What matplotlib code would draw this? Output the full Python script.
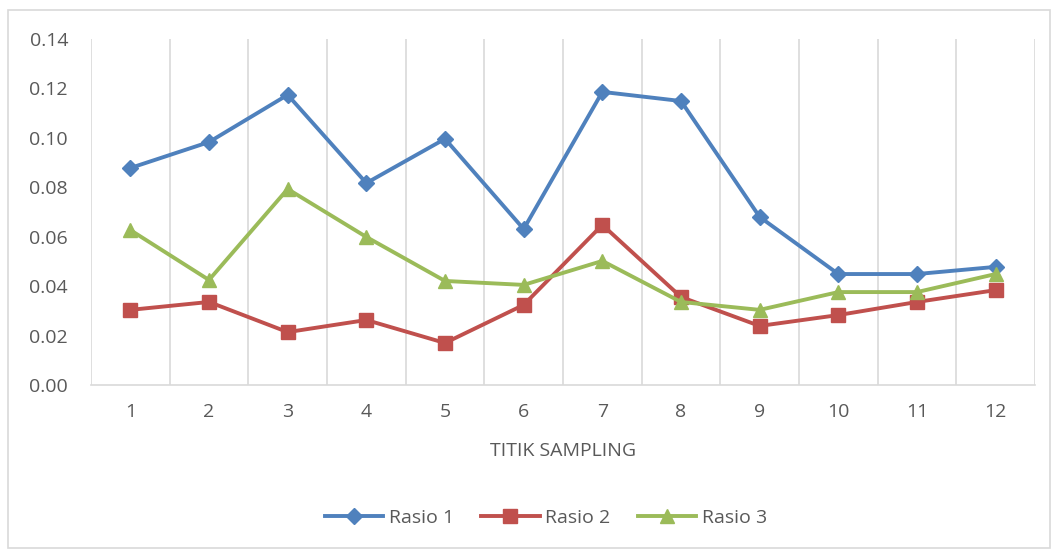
import matplotlib
matplotlib.use("Agg")
import matplotlib.pyplot as plt
from matplotlib.patches import Rectangle
import numpy as np

categories = ["1", "2", "3", "4", "5", "6", "7", "8", "9", "10", "11", "12"]
rasio1 = [0.0878, 0.0983, 0.1174, 0.0817, 0.0996, 0.0631, 0.1186, 0.1149, 0.0680, 0.0449, 0.0449, 0.0478]
rasio2 = [0.0304, 0.0336, 0.0214, 0.0263, 0.0170, 0.0324, 0.0648, 0.0356, 0.0239, 0.0283, 0.0336, 0.0384]
rasio3 = [0.0627, 0.0425, 0.0793, 0.0599, 0.0421, 0.0405, 0.0502, 0.0336, 0.0304, 0.0376, 0.0376, 0.0449]
yticks = [0.00, 0.02, 0.04, 0.06, 0.08, 0.10, 0.12, 0.14]

plt.rcParams['font.family'] = ['Open Sans', 'DejaVu Sans']
txt = '#595959'
grid = '#D9D9D9'
fs = 14

W, H = 1057, 552
fig = plt.figure(figsize=(W/100, H/100), dpi=100)
fig.patches.append(Rectangle((8/W, 1 - 548/H), (1050-8)/W, (548-10)/H, transform=fig.transFigure,
                             fill=False, edgecolor=grid, linewidth=1.2))

ax = fig.add_axes([91/W, 1 - 385/H, (1035-91)/W, (385-39)/H])
x = np.arange(len(categories))
ax.set_xlim(-0.5, len(categories) - 0.5)
ax.set_ylim(0, 0.14)

for b in np.arange(0.5, len(categories) - 0.4, 1.0):
    ax.axvline(b, color=grid, linewidth=1.2, zorder=0)
ax.axvline(-0.5, color=grid, linewidth=1.2, zorder=0)

for s in ['top', 'right', 'left']:
    ax.spines[s].set_visible(False)
ax.spines['bottom'].set_color(grid)
ax.spines['bottom'].set_linewidth(1.2)

ax.plot(x, rasio1, color='#4F81BD', linewidth=2.8, marker='D', markersize=8.5, label='Rasio 1', zorder=3)
ax.plot(x, rasio2, color='#C0504D', linewidth=2.8, marker='s', markersize=9.5, label='Rasio 2', zorder=3)
ax.plot(x, rasio3, color='#9BBB59', linewidth=2.8, marker='^', markersize=10.5, label='Rasio 3', zorder=3)

ax.set_xticks(x)
ax.set_xticklabels(categories)
ax.set_yticks(yticks)
ax.set_yticklabels([f"{v:.2f}" for v in yticks])
ax.tick_params(axis='both', length=0, colors=txt, labelsize=fs)
ax.tick_params(axis='x', pad=13)
ax.tick_params(axis='y', pad=16.5)

ax.set_xlabel('TITIK SAMPLING', color=txt, fontsize=fs, labelpad=15)

leg = fig.legend(loc='center', bbox_to_anchor=(546/W, 1 - 518/H), ncol=3, frameon=False,
                 fontsize=fs, handlelength=3.0, columnspacing=1.4, handletextpad=0.3)
for t in leg.get_texts():
    t.set_color(txt)

fig.savefig('out.png', dpi=100)
